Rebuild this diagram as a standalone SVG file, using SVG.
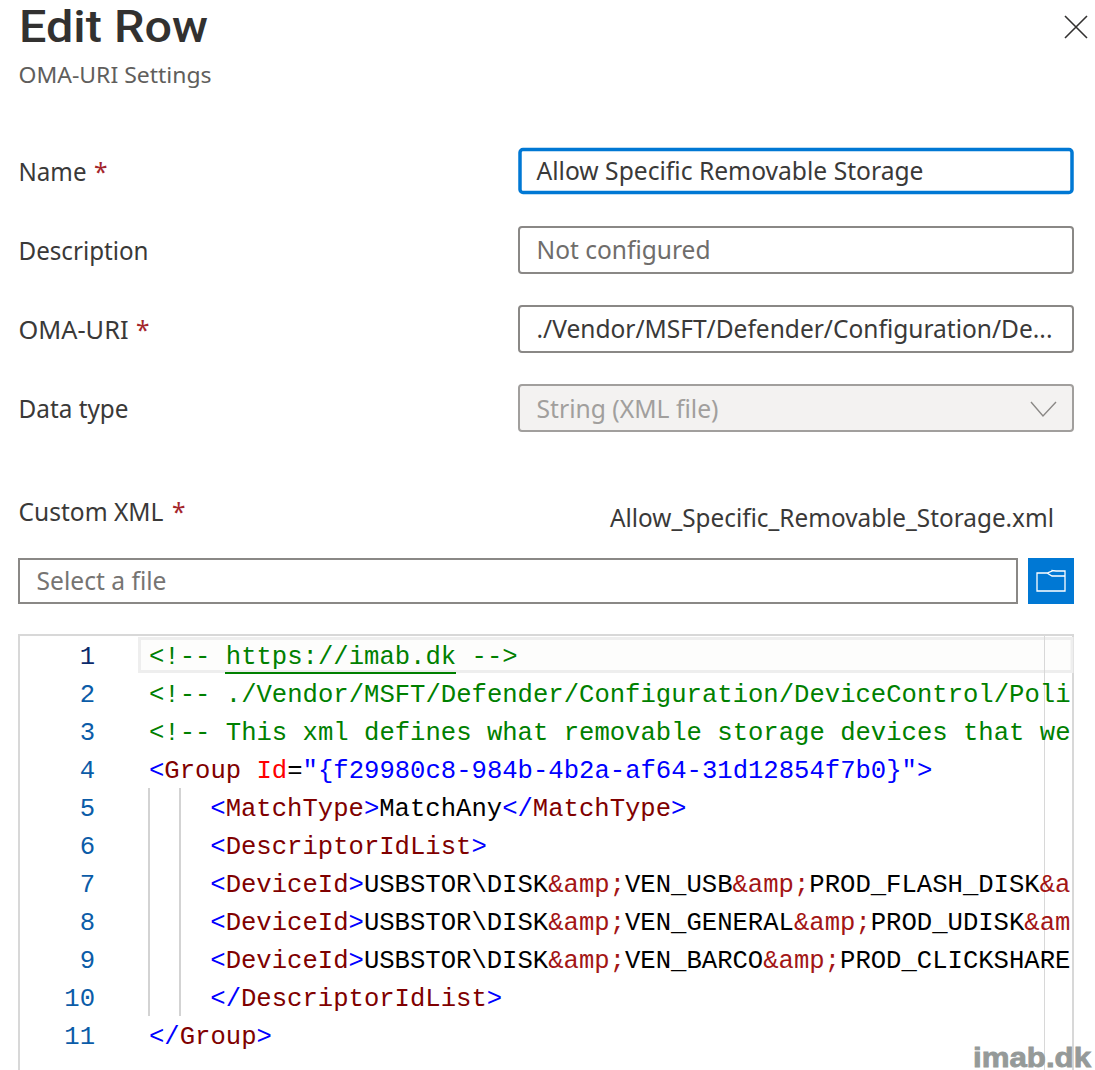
<svg xmlns="http://www.w3.org/2000/svg" width="1095" height="1070" viewBox="0 0 1095 1070">
<style>
.ui{font-family:"Noto Sans","Open Sans","Liberation Sans",sans-serif;font-size:24.5px;fill:#3a3938}
.ph{fill:#6f6d6b}
.box{fill:#fff;stroke:#8a8886;stroke-width:2}
.req{fill:#a4262c}
.code{font-family:"Liberation Mono","DejaVu Sans Mono",monospace;font-size:25.6px}
.num{font-family:"Liberation Mono","DejaVu Sans Mono",monospace;font-size:25.6px;fill:#0b5ca8;text-anchor:end}
.c{fill:#008000}.b{fill:#0000ff}.t{fill:#800000}.r{fill:#ff0000}.k{fill:#000}.e{fill:#a31515}
.guide{stroke:#d3d3d3;stroke-width:2}
</style>
<rect width="1095" height="1070" fill="#fff"/>
<g id="header">
<text x="19" y="42" style="font-family:Roboto,'Liberation Sans',sans-serif;font-size:45px;font-weight:500;fill:#323130" textLength="189" lengthAdjust="spacingAndGlyphs">Edit Row</text>
<text x="18.500" y="83" class="ui" style="font-size:22.5px;fill:#605e5c" textLength="193" lengthAdjust="spacingAndGlyphs">OMA-URI Settings</text>
<path d="M1065 16L1087 38M1087 16L1065 38" stroke="#323130" stroke-width="1.6" fill="none"/>
</g>
<g id="name">
<text x="18.500" y="181" class="ui" textLength="68" lengthAdjust="spacingAndGlyphs">Name</text><text x="94" y="181" class="ui req">*</text>
<rect x="520" y="149.500" width="552" height="43" rx="3" fill="#fff" stroke="#0078d4" stroke-width="3.500"/>
<text x="536.500" y="180" class="ui" textLength="387" lengthAdjust="spacingAndGlyphs">Allow Specific Removable Storage</text>
</g>
<g id="description">
<text x="18.500" y="260" class="ui" textLength="130" lengthAdjust="spacingAndGlyphs">Description</text>
<rect x="519" y="227" width="554" height="46" rx="3" class="box"/>
<text x="536.500" y="259" class="ui ph" textLength="174" lengthAdjust="spacingAndGlyphs">Not configured</text>
</g>
<g id="omauri">
<text x="18.500" y="339" class="ui" textLength="110" lengthAdjust="spacingAndGlyphs">OMA-URI</text><text x="136" y="339" class="ui req">*</text>
<rect x="519" y="306" width="554" height="46" rx="3" class="box"/>
<text x="536.500" y="338" class="ui" textLength="516" lengthAdjust="spacingAndGlyphs">./Vendor/MSFT/Defender/Configuration/De...</text>
</g>
<g id="datatype">
<text x="18.500" y="418" class="ui" textLength="110" lengthAdjust="spacingAndGlyphs">Data type</text>
<rect x="519" y="385" width="554" height="46" rx="3" fill="#f3f2f1" stroke="#a19f9d" stroke-width="2"/>
<text x="536.500" y="418" class="ui" style="fill:#a19f9d" textLength="182" lengthAdjust="spacingAndGlyphs">String (XML file)</text>
<path d="M1031 402L1043 416L1056 402" fill="none" stroke="#8a8886" stroke-width="1.400"/>
</g>
<g id="customxml">
<text x="18.500" y="521" class="ui" textLength="145" lengthAdjust="spacingAndGlyphs">Custom XML</text><text x="172" y="521" class="ui req">*</text>
<text x="610" y="527" class="ui" textLength="444" lengthAdjust="spacingAndGlyphs">Allow_Specific_Removable_Storage.xml</text>
</g>
<g id="filepicker">
<rect x="19" y="559" width="998" height="44" class="box"/>
<text x="36.500" y="590" class="ui ph" style="fill:#767472" textLength="130" lengthAdjust="spacingAndGlyphs">Select a file</text>
<rect x="1028" y="558" width="46" height="46" fill="#0078d4"/>
<path d="M1037 573H1047L1052 571V570.500L1056 571H1065V591H1037ZM1047 573L1052 576H1065" fill="none" stroke="#fff" stroke-width="1.300"/>
</g>
<g id="editor">
<path d="M19 1070V635H1073V1070" fill="none" stroke="#d8d8d8" stroke-width="2"/>
<rect x="139.500" y="638.500" width="932.500" height="33" fill="#fdfdfc" stroke="#eeeeee" stroke-width="3"/>
<line x1="1044.500" y1="636" x2="1044.500" y2="1070" stroke="#d8d8d8" stroke-width="1"/>
<line x1="149" y1="788" x2="149" y2="1016" class="guide"/>
<line x1="180" y1="788" x2="180" y2="1016" class="guide"/>
<g class="lines">
<text x="95" y="663.500" class="num" style="fill:#0b2a6b">1</text>
<text x="95" y="701.500" class="num">2</text>
<text x="95" y="739.500" class="num">3</text>
<text x="95" y="777.500" class="num">4</text>
<text x="95" y="815.500" class="num">5</text>
<text x="95" y="853.500" class="num">6</text>
<text x="95" y="891.500" class="num">7</text>
<text x="95" y="929.500" class="num">8</text>
<text x="95" y="967.500" class="num">9</text>
<text x="95" y="1005.500" class="num">10</text>
<text x="95" y="1043.500" class="num">11</text>
</g>
<g class="source">
<text x="149" y="663.500" class="code c">&lt;!-- https://imab.dk --&gt;</text>
<line x1="225" y1="673" x2="456" y2="673" stroke="#008000" stroke-width="2"/>
<text x="149" y="701.500" class="code c">&lt;!-- ./Vendor/MSFT/Defender/Configuration/DeviceControl/Poli</text>
<text x="149" y="739.500" class="code c">&lt;!-- This xml defines what removable storage devices that we</text>
<text x="149" y="777.500" class="code"><tspan class="b">&lt;</tspan><tspan class="t">Group</tspan> <tspan class="r">Id</tspan><tspan class="k">=</tspan><tspan class="b">"{f29980c8-984b-4b2a-af64-31d12854f7b0}"&gt;</tspan></text>
<text x="210.300" y="815.500" class="code"><tspan class="b">&lt;</tspan><tspan class="t">MatchType</tspan><tspan class="b">&gt;</tspan><tspan class="k">MatchAny</tspan><tspan class="b">&lt;/</tspan><tspan class="t">MatchType</tspan><tspan class="b">&gt;</tspan></text>
<text x="210.300" y="853.500" class="code"><tspan class="b">&lt;</tspan><tspan class="t">DescriptorIdList</tspan><tspan class="b">&gt;</tspan></text>
<text x="210.300" y="891.500" class="code"><tspan class="b">&lt;</tspan><tspan class="t">DeviceId</tspan><tspan class="b">&gt;</tspan><tspan class="k">USBSTOR\DISK</tspan><tspan class="e">&amp;amp;</tspan><tspan class="k">VEN_USB</tspan><tspan class="e">&amp;amp;</tspan><tspan class="k">PROD_FLASH_DISK</tspan><tspan class="e">&amp;a</tspan></text>
<text x="210.300" y="929.500" class="code"><tspan class="b">&lt;</tspan><tspan class="t">DeviceId</tspan><tspan class="b">&gt;</tspan><tspan class="k">USBSTOR\DISK</tspan><tspan class="e">&amp;amp;</tspan><tspan class="k">VEN_GENERAL</tspan><tspan class="e">&amp;amp;</tspan><tspan class="k">PROD_UDISK</tspan><tspan class="e">&amp;am</tspan></text>
<text x="210.300" y="967.500" class="code"><tspan class="b">&lt;</tspan><tspan class="t">DeviceId</tspan><tspan class="b">&gt;</tspan><tspan class="k">USBSTOR\DISK</tspan><tspan class="e">&amp;amp;</tspan><tspan class="k">VEN_BARCO</tspan><tspan class="e">&amp;amp;</tspan><tspan class="k">PROD_CLICKSHARE</tspan></text>
<text x="210.300" y="1005.500" class="code"><tspan class="b">&lt;/</tspan><tspan class="t">DescriptorIdList</tspan><tspan class="b">&gt;</tspan></text>
<text x="149" y="1043.500" class="code"><tspan class="b">&lt;/</tspan><tspan class="t">Group</tspan><tspan class="b">&gt;</tspan></text>
</g>
</g>
<g id="watermark">
<text x="973" y="1067" style="font-family:'Liberation Sans',sans-serif;font-size:27px;font-weight:700;fill:#959a99;stroke:#959a99;stroke-width:.8" textLength="118" lengthAdjust="spacingAndGlyphs">imab.dk</text>
</g>
</svg>
